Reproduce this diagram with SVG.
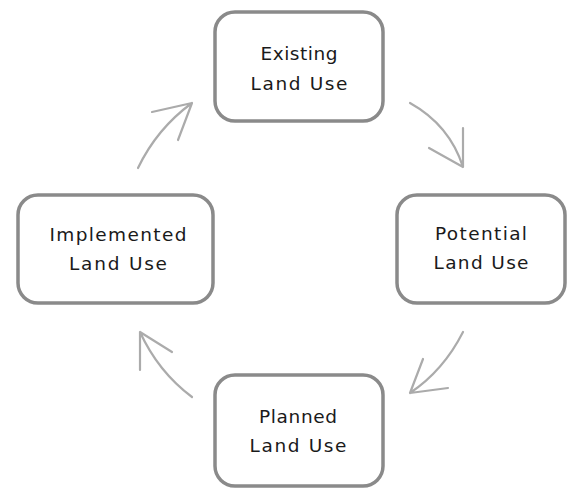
<svg xmlns="http://www.w3.org/2000/svg" width="568" height="489" viewBox="0 0 568 489">
<style>
.box{fill:#fff;stroke:#8a8a8a;stroke-width:3.5}
.lbl{font-family:"DejaVu Sans",Verdana,sans-serif;font-size:18.5px;fill:#1a1a1a;text-anchor:middle}
.arr{fill:none;stroke:#ababab;stroke-width:2.2;stroke-linecap:round;stroke-linejoin:round}
</style>
<rect width="568" height="489" fill="#fff"/>
<g id="connectors">
<path class="arr" d="M138,168 Q157,128.5 192,103 M152,112 L192,103 L178,140"/>
<path class="arr" d="M410,103 Q449.5,125 463,167 M463,128 L463,167 L429,148"/>
<path class="arr" d="M463,332 Q443.5,370.5 410,393 M423,359 L410,393 L448,388"/>
<path class="arr" d="M192,397 Q158,371.5 140,332 M140,370 L140,332 L172,352"/>
</g>
<g id="existing">
<rect class="box" x="215" y="12" width="168" height="109" rx="20"/>
<text class="lbl" x="299" y="60" textLength="77" lengthAdjust="spacing">Existing</text>
<text class="lbl" x="299" y="90" textLength="97" lengthAdjust="spacing">Land Use</text>
</g>
<g id="potential">
<rect class="box" x="397" y="195" width="168" height="108" rx="20"/>
<text class="lbl" x="481" y="240" textLength="92" lengthAdjust="spacing">Potential</text>
<text class="lbl" x="481" y="269" textLength="95" lengthAdjust="spacing">Land Use</text>
</g>
<g id="planned">
<rect class="box" x="215" y="375" width="168" height="111" rx="20"/>
<text class="lbl" x="298" y="423" textLength="78" lengthAdjust="spacing">Planned</text>
<text class="lbl" x="298" y="452" textLength="97" lengthAdjust="spacing">Land Use</text>
</g>
<g id="implemented">
<rect class="box" x="18" y="195" width="195" height="108" rx="20"/>
<text class="lbl" x="118" y="241" textLength="137" lengthAdjust="spacing">Implemented</text>
<text class="lbl" x="118" y="270" textLength="98" lengthAdjust="spacing">Land Use</text>
</g>
</svg>
